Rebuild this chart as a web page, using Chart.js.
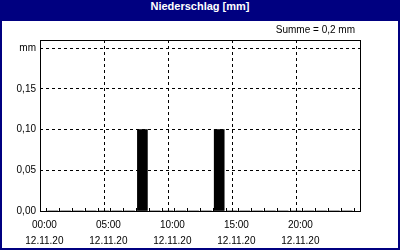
<!DOCTYPE html>
<html>
<head>
<meta charset="utf-8">
<script src="https://cdn.jsdelivr.net/npm/chart.js@4"></script>
<style>
  body { margin: 0; overflow: hidden; background: #fff; }
  #box { position: relative; width: 400px; height: 250px; box-sizing: border-box;
         border: 2px solid #000080; border-top: 0; background: #fff; }
  #title { height: 21px; line-height: 21px; background: #000080; color: #fff;
           font: bold 11px "Liberation Sans", sans-serif; text-align: center; }
  #sum { position: absolute; right: 43px; top: 24px; line-height: 12px;
         font: 10px "Liberation Sans", sans-serif; color: #000; }
  canvas { display: block; }
</style>
</head>
<body>
<div id="box">
  <div id="title">Niederschlag [mm]</div>
  <div id="sum">Summe = 0,2 mm</div>
  <canvas id="myChart" width="396" height="227"></canvas>
</div>
<script>
// hourly rain, 12.11.20, 00:00 .. 23:00
var hourlyRain = [0, 0, 0, 0, 0, 0, 0, 0.1, 0, 0, 0, 0, 0, 0.1, 0, 0, 0, 0, 0, 0, 0, 0, 0, 0];
var timeLabels = ["00:00", "05:00", "10:00", "15:00", "20:00"];
var dateLabel = "12.11.20";
var yTicks = [0, 0.05, 0.10, 0.15, 0.20];
var yTickLabels = ["0,00", "0,05", "0,10", "0,15", "mm"];

Chart.defaults.font.family = "'Liberation Sans', sans-serif";
Chart.defaults.font.size = 10;
Chart.defaults.color = "#000";

var points = [];
for (var i = 0; i < hourlyRain.length; i++) {
  points.push({ x: i + 0.5, y: hourlyRain[i] });
}

// frame + little hour ticks pointing up into the plot
var frame = {
  id: "frame",
  afterDraw: function (chart) {
    var ctx = chart.ctx, a = chart.chartArea, xs = chart.scales.x;
    ctx.save();
    ctx.strokeStyle = "#000";
    ctx.lineWidth = 1;
    ctx.strokeRect(Math.round(a.left) + 0.5, Math.round(a.top) + 0.5,
      Math.round(a.right - a.left), Math.round(a.bottom - a.top));
    ctx.beginPath();
    xs.ticks.forEach(function (t) {
      var px = Math.round(xs.getPixelForValue(t.value)) + 0.5;
      ctx.moveTo(px, Math.round(a.bottom));
      ctx.lineTo(px, Math.round(a.bottom) - 3);
    });
    ctx.stroke();
    ctx.restore();
  }
};

new Chart("myChart", {
  type: "bar",
  data: {
    datasets: [{
      data: points,
      backgroundColor: "#000",
      borderWidth: 0,
      barThickness: 10
    }]
  },
  options: {
    responsive: false,
    animation: false,
    layout: { padding: { top: 19, right: 38, left: 0, bottom: 0 } },
    plugins: { legend: { display: false }, tooltip: { enabled: false } },
    scales: {
      x: {
        type: "linear",
        min: 0,
        max: 24,
        afterFit: function (s) { s.height = 37; },
        ticks: {
          stepSize: 1,
          autoSkip: false,
          maxRotation: 0,
          padding: 6,
          labelOffset: -2,
          font: { size: 10, lineHeight: 1.6 },
          callback: function (v) {
            if (v % 5 === 0 && v < 24) return [timeLabels[v / 5], dateLabel];
            return "";
          }
        },
        grid: {
          drawTicks: false,
          color: function (c) {
            var v = c.tick ? c.tick.value : -1;
            return (v % 5 === 0 && v > 0 && v < 24) ? "#000" : "rgba(0,0,0,0)";
          }
        },
        border: { display: false, dash: [3, 3] }
      },
      y: {
        min: 0,
        max: 0.21,
        afterFit: function (s) { s.width = 38; },
        afterBuildTicks: function (s) {
          s.ticks = yTicks.map(function (v) { return { value: v }; });
        },
        ticks: {
          padding: 4,
          callback: function (v) {
            var i = yTicks.findIndex(function (t) { return Math.abs(t - v) < 1e-9; });
            return i >= 0 ? yTickLabels[i] : "";
          }
        },
        grid: {
          drawTicks: false,
          color: function (c) {
            var v = c.tick ? c.tick.value : 0;
            return v > 0.001 ? "#000" : "rgba(0,0,0,0)";
          }
        },
        border: { display: false, dash: [3, 3] }
      }
    }
  },
  plugins: [frame]
});
</script>
</body>
</html>
